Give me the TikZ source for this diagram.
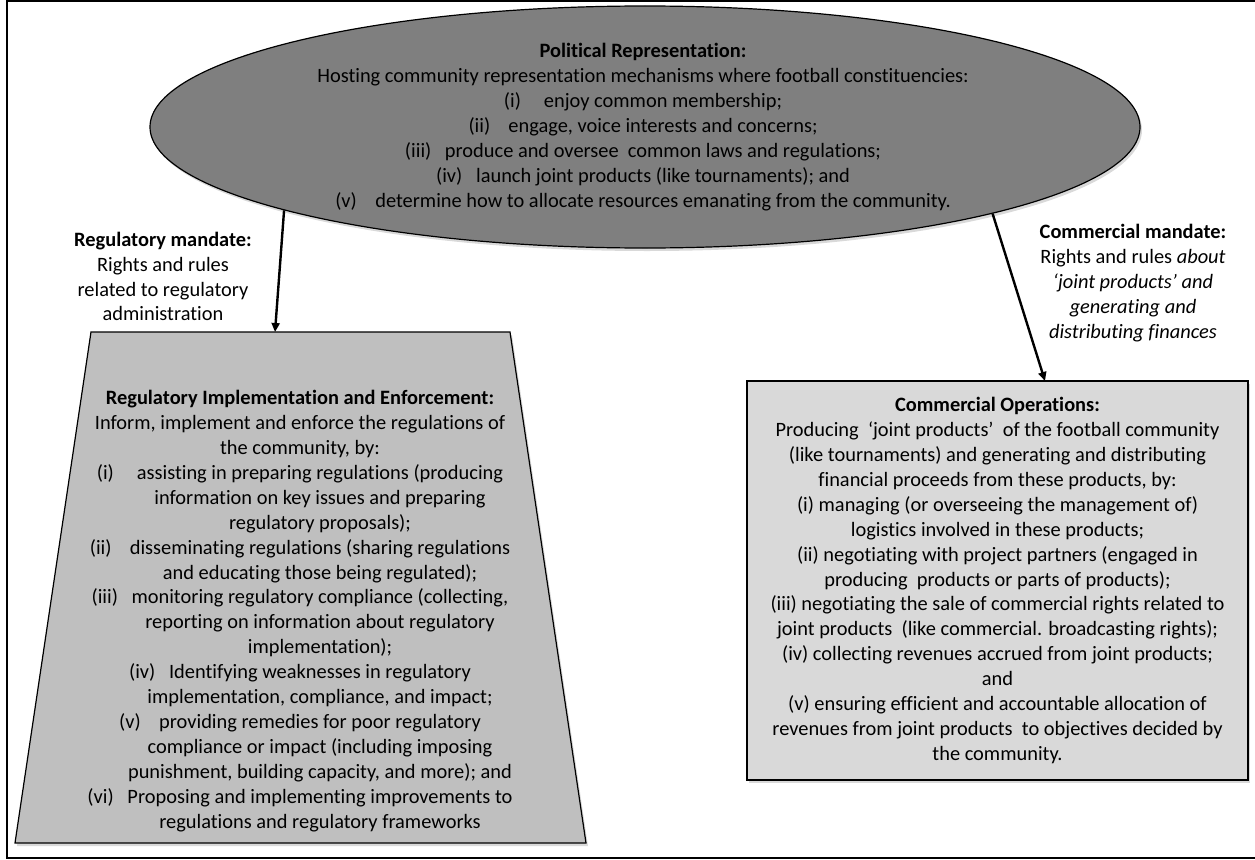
\documentclass[tikz,border=0pt]{standalone}
\usepackage{fontspec}
\setmainfont{Carlito}[Ligatures={NoCommon}]
\usetikzlibrary{arrows.meta,shadows,shapes.geometric}
\definecolor{ellgray}{HTML}{7F7F7F}
\definecolor{trapgray}{HTML}{BFBFBF}
\definecolor{boxgray}{HTML}{D9D9D9}
\newcommand{\itemlbl}[1]{\makebox[40pt][l]{#1}}
\newcommand{\contind}{\hspace*{40pt}}
\begin{document}
\begin{tikzpicture}[x=1pt,y=-1pt,
  txt/.style={font=\fontsize{20.4}{24.9}\selectfont, align=center, inner sep=0pt, text=black},
  shade/.style={drop shadow={opacity=0.3, shadow xshift=2pt, shadow yshift=-3pt}},
  shapeline/.style={draw=black, line width=1.2pt},
  conn/.style={line width=2.4pt, -{Triangle[length=9pt,width=8pt]}},
  frame/.style={line width=2pt}]
\useasboundingbox (0,0) rectangle (1255,859);
\draw[frame] (1256,1) -- (7,1) -- (7,858) -- (1256,858);

% Political representation ellipse
\node[ellipse, shapeline, fill=ellgray, shade, minimum width=990pt, minimum height=242pt, inner sep=0pt] (pol) at (645,127) {};
\node[txt] (poltext) at (643,127) {\textbf{Political Representation:}\\
Hosting community representation mechanisms where football constituencies:\\
\itemlbl{(i)}enjoy common membership;\\
\itemlbl{(ii)}engage, voice interests and concerns;\\
\itemlbl{(iii)}produce and oversee\ \ common laws and regulations;\\
\itemlbl{(iv)}launch joint products\ (like tournaments); and\\
\itemlbl{(v)}determine how to allocate resources emanating from the community.};

% Regulatory trapezoid
\path[shapeline, fill=trapgray, shade] (91,332) -- (510,332) -- (586,843) -- (15,843) -- cycle;
\coordinate (regtop) at (275,332);
\node[txt] (regtext) at (300,611) {\textbf{Regulatory Implementation and Enforcement:}\\
Inform, implement and enforce the regulations of\\
the community, by:\\
\itemlbl{(i)}assisting in preparing regulations (producing\\
\contind information on key issues and preparing\\
\contind regulatory proposals);\\
\itemlbl{(ii)}disseminating regulations (sharing regulations\\
\contind and educating those being regulated);\\
\itemlbl{(iii)}monitoring regulatory compliance (collecting,\\
\contind reporting on information about regulatory\\
\contind implementation);\\
\itemlbl{(iv)}Identifying weaknesses in regulatory\\
\contind implementation, compliance, and impact;\\
\itemlbl{(v)}providing remedies for poor regulatory\\
\contind compliance or impact (including imposing\\
\contind punishment, building capacity, and more); and\\
\itemlbl{(vi)}Proposing and implementing improvements to\\
\contind regulations and regulatory frameworks};

% Commercial operations box
\node[txt, rectangle, shapeline, fill=boxgray, shade, minimum width=501pt, minimum height=399pt] (comm) at (997.5,580.5) {\textbf{Commercial Operations:}\\
Producing\ \ ‘joint products’\ \ of the football community\\
(like tournaments) and generating and distributing\\
financial proceeds from these products,\ by:\\
(i) managing (or overseeing the management of)\\
logistics involved in these products;\\
(ii) negotiating with project partners (engaged in\\
producing\ \ products or parts of products);\\
(iii) negotiating the sale of commercial rights related to\\
joint products\ \ (like commercial. broadcasting rights);\\
(iv) collecting revenues accrued from joint products;\\
and\\
(v) ensuring efficient and accountable allocation of\\
revenues from joint products\ \ to objectives decided by\\
the community.};
\coordinate (commtop) at (1045,381);

% Mandate labels
\node[txt] (regmand) at (163,276.5) {\textbf{Regulatory mandate:}\\
Rights and rules\\
related to regulatory\\
administration};
\node[txt] (commmand) at (1133,283) {\textbf{Commercial mandate:}\\
Rights and rules \textit{about}\\
\textit{‘joint products’ and}\\
\textit{generating and}\\
\textit{distributing finances}};

% Connectors
\draw[conn] (pol.193.74) -- (regtop);
\draw[conn] (pol.346.26) -- (commtop);
\end{tikzpicture}
\end{document}
